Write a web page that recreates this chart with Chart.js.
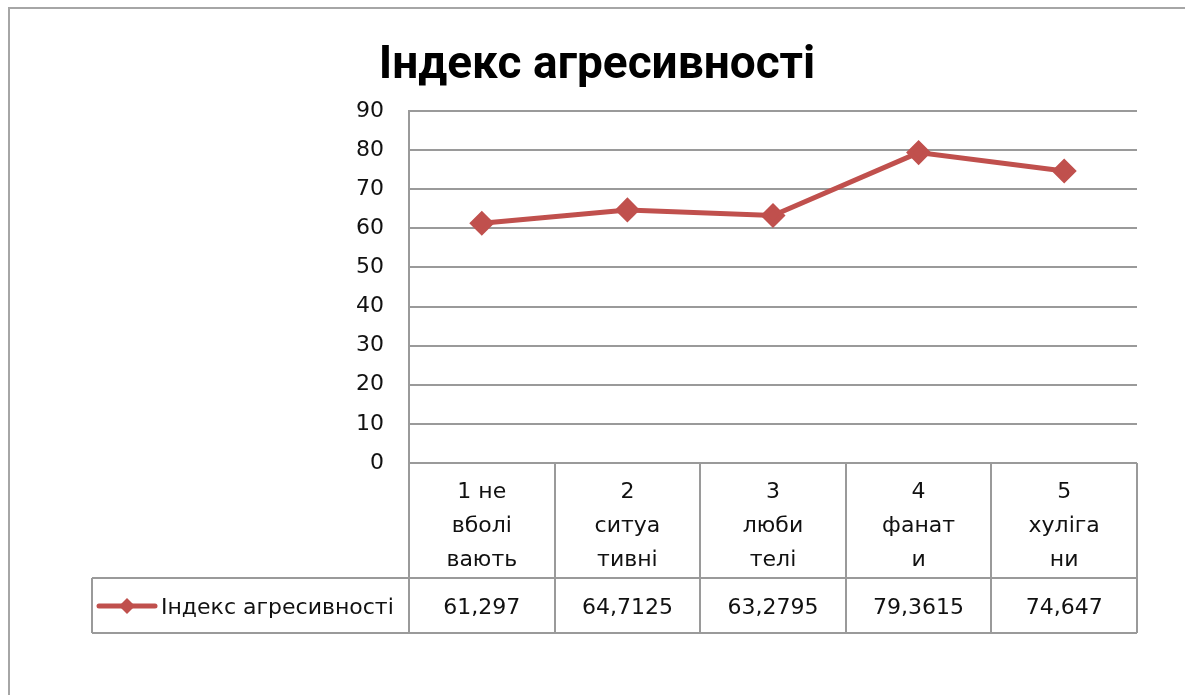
<!DOCTYPE html>
<html>
<head>
<meta charset="utf-8">
<script src="https://cdn.jsdelivr.net/npm/chart.js@4.4.0/dist/chart.umd.min.js"></script>
<style>
html,body{margin:0;padding:0;background:#fff;}
#wrap{position:relative;width:1185px;height:695px;}
#frame{position:absolute;left:8px;top:7px;width:1190px;height:700px;border-left:2px solid #a6a6a6;border-top:2px solid #a6a6a6;box-sizing:border-box;}
canvas{position:absolute;left:0;top:0;}
</style>
</head>
<body>
<div id="wrap">
<div id="frame"></div>
<canvas id="c" width="1185" height="695"></canvas>
</div>
<script>
const chartTitle = "Індекс агресивності";
const seriesName = "Індекс агресивності";
const categories = [
  ["1 не", "вболі", "вають"],
  ["2", "ситуа", "тивні"],
  ["3", "люби", "телі"],
  ["4", "фанат", "и"],
  ["5", "хуліга", "ни"]
];
const values = [61.297, 64.7125, 63.2795, 79.3615, 74.647];
const yTicks = [0, 10, 20, 30, 40, 50, 60, 70, 80, 90];

const LINE_COLOR = "#C0504D";
const GRID_COLOR = "#9a9a9a";
const TEXT_COLOR = "#111";
const TEXT_FONT = "DejaVu Sans";
const TEXT_SIZE = 22;

const titlePlugin = {
  id: "manualTitle",
  afterDraw(chart) {
    const ctx = chart.ctx;
    ctx.save();
    ctx.fillStyle = "#000";
    ctx.font = "bold 46px Roboto";
    ctx.textAlign = "center";
    ctx.textBaseline = "alphabetic";
    ctx.fillText(chartTitle, 597, 78);
    ctx.restore();
  }
};

const tablePlugin = {
  id: "dataTable",
  afterDraw(chart) {
    const ctx = chart.ctx;
    const xs = chart.scales.x;
    const area = chart.chartArea;
    const n = categories.length;
    const step = (area.right - area.left) / n;
    const top = area.bottom;
    const hdrBottom = top + 115;
    const rowBottom = top + 170;
    const legendLeft = 92;
    ctx.save();
    ctx.strokeStyle = GRID_COLOR;
    ctx.lineWidth = 2;
    for (let i = 0; i <= n; i++) {
      const x = Math.round(xs.getPixelForTick(Math.min(i, n - 1)) + (i === n ? step / 2 : -step / 2));
      ctx.beginPath();
      ctx.moveTo(x, top);
      ctx.lineTo(x, rowBottom);
      ctx.stroke();
    }
    ctx.beginPath();
    ctx.moveTo(legendLeft, hdrBottom); ctx.lineTo(area.right, hdrBottom);
    ctx.moveTo(legendLeft, rowBottom); ctx.lineTo(area.right, rowBottom);
    ctx.moveTo(legendLeft, hdrBottom); ctx.lineTo(legendLeft, rowBottom);
    ctx.stroke();

    ctx.fillStyle = TEXT_COLOR;
    ctx.font = TEXT_SIZE + "px '" + TEXT_FONT + "'";
    ctx.textAlign = "center";
    ctx.textBaseline = "middle";
    for (let i = 0; i < n; i++) {
      const cx = xs.getPixelForTick(i);
      categories[i].forEach((t, k) => ctx.fillText(t, cx, top + 29 + k * 34));
      ctx.fillText(String(values[i]).replace(".", ","), cx, hdrBottom + 30);
    }
    const ly = hdrBottom + 28;
    ctx.strokeStyle = LINE_COLOR;
    ctx.lineWidth = 5;
    ctx.lineCap = "round";
    ctx.beginPath();
    ctx.moveTo(99, ly); ctx.lineTo(155, ly);
    ctx.stroke();
    ctx.fillStyle = LINE_COLOR;
    ctx.beginPath();
    ctx.moveTo(127, ly - 8); ctx.lineTo(135, ly); ctx.lineTo(127, ly + 8); ctx.lineTo(119, ly);
    ctx.closePath(); ctx.fill();
    ctx.fillStyle = TEXT_COLOR;
    ctx.textAlign = "left";
    ctx.fillText(seriesName, 161, hdrBottom + 30);
    ctx.restore();
  }
};

new Chart(document.getElementById("c"), {
  type: "line",
  data: {
    labels: categories,
    datasets: [{
      label: seriesName,
      data: values,
      borderColor: LINE_COLOR,
      backgroundColor: LINE_COLOR,
      borderWidth: 5,
      pointStyle: "rectRot",
      pointRadius: 9,
      pointHoverRadius: 9,
      tension: 0
    }]
  },
  options: {
    responsive: false,
    animation: false,
    events: [],
    layout: { padding: { left: 0, right: 48, top: 111, bottom: 0 } },
    plugins: {
      legend: { display: false },
      tooltip: { enabled: false },
      title: { display: false }
    },
    scales: {
      x: {
        type: "category",
        offset: true,
        grid: { display: false },
        border: { display: false },
        ticks: { display: false },
        afterFit(s) { s.height = 232; }
      },
      y: {
        min: 0, max: 90,
        afterBuildTicks(s) { s.ticks = yTicks.map(v => ({ value: v })); },
        grid: { color: GRID_COLOR, lineWidth: 2, drawTicks: false },
        border: { color: GRID_COLOR, width: 2 },
        ticks: { color: TEXT_COLOR, padding: 25, font: { family: TEXT_FONT, size: TEXT_SIZE } },
        afterFit(s) { s.width = 409; }
      }
    }
  },
  plugins: [titlePlugin, tablePlugin]
});
</script>
</body>
</html>
